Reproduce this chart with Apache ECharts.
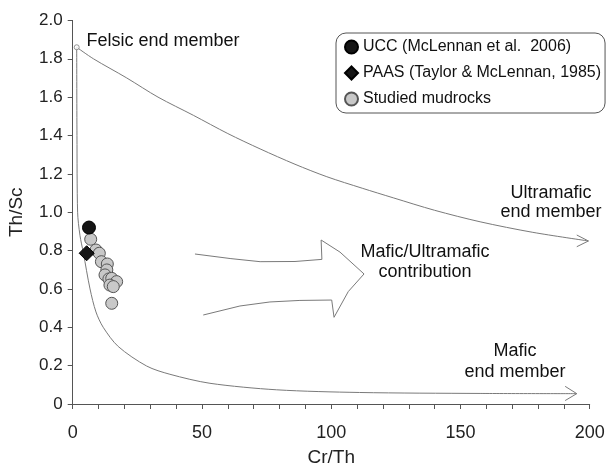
<!DOCTYPE html>
<html>
<head>
<meta charset="utf-8">
<script src="https://cdn.jsdelivr.net/npm/echarts@6/dist/echarts.min.js"></script>
<style>
html,body{margin:0;padding:0;background:#fff;}
#chart{width:606px;height:469px;}
</style>
</head>
<body>
<div id="chart"></div>
<script>
// ---- data ----
const xTickStep = 10;
const xLabelEvery = 50;
const yTicks = [0, 0.2, 0.4, 0.6, 0.8, 1.0, 1.2, 1.4, 1.6, 1.8, 2.0];

const felsicPoint = [[1.55, 1.86]];
const upperCurve = [[1.55,1.86],[8.0,1.80],[20.9,1.70],[33,1.60],[46.7,1.505],[60,1.41],[72.5,1.33],[86,1.25],[98.3,1.185],[112,1.125],[124,1.075],[140,1.01],[157.6,0.95],[178,0.895],[199.5,0.85]];
const lowerCurve = [[1.55,1.86],[1.65,1.40],[1.9,1.00],[2.8,0.88],[4.1,0.79],[6.7,0.60],[9,0.48],[11.8,0.40],[17.6,0.30],[28.6,0.198],[37.6,0.155],[53.1,0.108],[78.9,0.074],[111,0.060],[157.6,0.055],[195,0.054]];
const upperArrowHead = [[195,0.881],[199.5,0.850],[195,0.820]];
const lowerArrowHead = [[190.5,0.092],[195,0.054],[190.5,0.018]];
const bigArrow = [[47.3,0.782],[61.2,0.758],[72.5,0.742],[86.0,0.743],[96.4,0.754],[96.1,0.855],[103.4,0.792],[112.7,0.678],[106.6,0.586],[101.1,0.452],[100.2,0.542],[87.9,0.540],[76.3,0.532],[64.7,0.511],[50.5,0.464]];

const uccName = 'UCC (McLennan et al.  2006)';
const paasName = 'PAAS (Taylor & McLennan, 1985)';
const mudName = 'Studied mudrocks';
const ucc = [[6.3, 0.92]];
const paas = [[5.4, 0.786]];
const mudrocks = [[6.96,0.859],[9.0,0.803],[10.3,0.786],[11.1,0.742],[13.4,0.730],[13.2,0.699],[12.5,0.673],[14.0,0.652],[15.1,0.655],[17.0,0.638],[14.4,0.620],[15.7,0.612],[15.1,0.525]];

const annotations = [
  {text: 'Felsic end member', at: [5.3, 1.89], align: 'left', size: 18, lh: 20},
  {text: 'Ultramafic\nend member', at: [185, 1.05], align: 'center', size: 18, lh: 19},
  {text: 'Mafic/Ultramafic\ncontribution', at: [136.3, 0.74], align: 'center', size: 18, lh: 20},
  {text: 'Mafic\nend member', at: [171.1, 0.224], align: 'center', size: 18, lh: 21}
];

const FONT = 'Liberation Sans, Arial, sans-serif';
const lineCol = '#7a7a7a';
const chart = echarts.init(document.getElementById('chart'));

function lineSeries(data, smooth, z) {
  return {type:'line', data:data, symbol:'none', showSymbol:false, smooth:smooth, silent:true,
    lineStyle:{color:lineCol, width:1}, z:z||2, animation:false};
}

chart.setOption({
  animation:false,
  backgroundColor:'#fff',
  grid:{left:72.7, right:16.3, top:20.4, bottom:65, containLabel:false, outerBoundsMode:'none'},
  xAxis:{type:'value', min:0, max:200, interval:xTickStep,
    axisLine:{lineStyle:{color:'#555'}},
    axisTick:{length:5, lineStyle:{color:'#555'}},
    splitLine:{show:false},
    axisLabel:{color:'#222', fontSize:18, fontFamily:FONT, margin:20,
      formatter:v => (v % xLabelEvery === 0 ? String(v) : '')},
    name:'Cr/Th', nameLocation:'middle', nameGap:44,
    nameTextStyle:{color:'#222', fontSize:19, fontFamily:FONT}},
  yAxis:{type:'value', min:0, max:2, interval:0.2,
    axisLine:{show:true, lineStyle:{color:'#555'}},
    axisTick:{show:true, length:5, lineStyle:{color:'#555'}},
    splitLine:{show:false},
    axisLabel:{color:'#222', fontSize:17, fontFamily:FONT, margin:10,
      formatter:v => (Math.abs(v) < 1e-9 ? '0' : v.toFixed(1))},
    name:'Th/Sc', nameLocation:'middle', nameGap:46, nameRotate:90,
    nameTextStyle:{color:'#222', fontSize:19, fontFamily:FONT}},
  legend:{left:336, top:33, orient:'vertical', itemGap:10, itemWidth:13, itemHeight:13,
    padding:[6,4,6,8], borderColor:'#555', borderWidth:1, borderRadius:10, backgroundColor:'#fff',
    textStyle:{color:'#111', fontSize:16, fontFamily:FONT},
    data:[{name:uccName, icon:'circle'},{name:paasName, icon:'diamond'},{name:mudName, icon:'circle'}]},
  series:[
    lineSeries(upperCurve, 0.3),
    lineSeries(lowerCurve, 0.3),
    lineSeries(upperArrowHead, false),
    lineSeries(lowerArrowHead, false),
    lineSeries(bigArrow, false),
    {type:'scatter', data:felsicPoint, symbol:'circle', symbolSize:5, silent:true,
      itemStyle:{color:'#fff', borderColor:lineCol, borderWidth:1}, z:5},
    {name:mudName, type:'scatter', data:mudrocks, symbol:'circle', symbolSize:12,
      itemStyle:{color:'#c8c8c8', borderColor:'#555', borderWidth:1, opacity:1}, z:6},
    {name:uccName, type:'scatter', data:ucc, symbol:'circle', symbolSize:13,
      itemStyle:{color:'#151515', borderColor:'#000', borderWidth:1, opacity:1}, z:7},
    {name:paasName, type:'scatter', data:paas, symbol:'diamond', symbolSize:15,
      itemStyle:{color:'#151515', borderColor:'#000', borderWidth:1, opacity:1}, z:7}
  ]
});

const g = annotations.map(a => {
  const p = chart.convertToPixel({gridIndex:0}, a.at);
  return {type:'text', x:p[0], y:p[1], silent:true, z:10,
    style:{text:a.text, fill:'#111', font: a.size + 'px ' + FONT, lineHeight:a.lh,
      align:a.align, verticalAlign:'middle'}};
});
chart.setOption({graphic:g});
</script>
</body>
</html>
